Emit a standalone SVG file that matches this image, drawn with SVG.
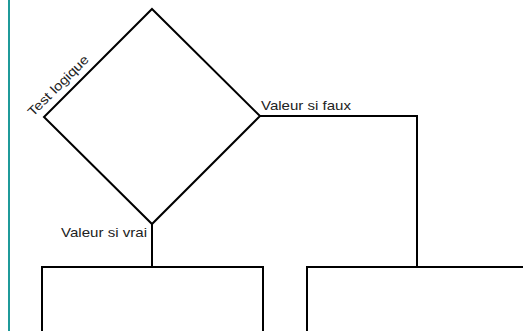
<svg xmlns="http://www.w3.org/2000/svg" width="523" height="331" viewBox="0 0 523 331">
<style>
.ln{fill:none;stroke:#000;stroke-width:2;stroke-linejoin:miter;stroke-linecap:square}
.lb{font-family:"Liberation Sans",Arial,sans-serif;font-size:13px;fill:#222}
</style>
<rect x="0" y="0" width="523" height="331" fill="#fff"/>
<line x1="9" y1="0" x2="9" y2="331" stroke="#1f9a9a" stroke-width="2"/>
<g id="decision">
<polygon class="ln" points="152,9 260,116 152,224 44,117"/>
<text class="lb" transform="translate(33,117) rotate(-45)" textLength="80" lengthAdjust="spacingAndGlyphs">Test logique</text>
</g>
<g id="box-vrai">
<path class="ln" d="M42,335 V267 H263 V335"/>
</g>
<g id="box-faux">
<path class="ln" d="M307,335 V267 H530"/>
</g>
<g id="connectors">
<path class="ln" d="M152,224 V267"/>
<path class="ln" d="M260,116 H417 V267"/>
<text class="lb" x="261" y="110" textLength="90" lengthAdjust="spacingAndGlyphs">Valeur si faux</text>
<text class="lb" x="61" y="237" textLength="86" lengthAdjust="spacingAndGlyphs">Valeur si vrai</text>
</g>
</svg>
